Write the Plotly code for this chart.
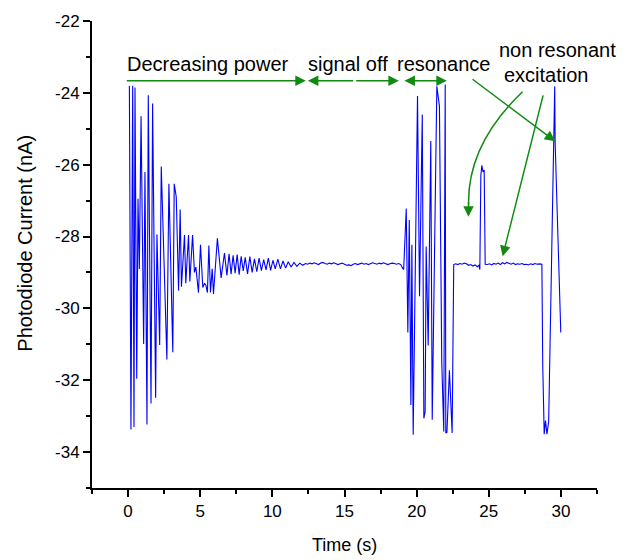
import plotly.graph_objects as go

# ---------------- data ----------------
t_decay = [0.09, 0.2, 0.32, 0.41, 0.48, 0.6, 0.69, 0.78, 0.9, 1.08, 1.17, 1.31, 1.4, 1.59, 1.7,
           1.91, 2.0, 2.19, 2.3, 2.69, 2.83, 3.1, 3.2, 3.34, 3.5, 3.61, 3.7, 3.91, 4.0, 4.19,
           4.28, 4.47, 4.6, 4.7, 4.88, 5.02, 5.18, 5.3, 5.39, 5.5, 5.6, 5.71, 5.83, 5.92, 6.19,
           6.45, 6.68]
i_decay = [-23.8, -33.37, -23.8, -33.3, -23.85, -31.96, -26.95, -28.9, -24.65, -30.99, -26.2,
           -33.23, -24.07, -32.65, -24.3, -32.49, -27.94, -31.02, -26.05, -31.42, -26.53, -31.22,
           -26.53, -26.9, -29.5, -27.25, -29.4, -27.96, -29.3, -27.96, -29.25, -27.96, -29.0,
           -28.85, -29.56, -28.23, -29.42, -29.3, -29.35, -29.56, -28.25, -29.56, -28.9, -29.6,
           -28.05, -29.15, -28.46]

t_ripple = [6.85, 7.0, 7.14, 7.28, 7.42, 7.56, 7.7, 7.84, 7.98, 8.12, 8.28, 8.44, 8.6, 8.76,
            8.92, 9.08, 9.24, 9.4, 9.56, 9.72, 9.88, 10.04, 10.2, 10.38, 10.56, 10.74, 10.92,
            11.1, 11.3, 11.5, 11.7, 11.9, 12.1]
i_ripple = [-29.08, -28.48, -29.05, -28.52, -29.02, -28.5, -29.06, -28.55, -28.96, -28.58,
            -29.04, -28.56, -29.0, -28.62, -28.98, -28.6, -28.95, -28.64, -28.93, -28.6, -28.94,
            -28.66, -28.9, -28.63, -28.9, -28.68, -28.88, -28.7, -28.85, -28.72, -28.83, -28.74,
            -28.8]

t_off = [12.3, 12.45, 12.6, 12.75, 12.9, 13.05, 13.2, 13.35, 13.5, 13.65, 13.8, 13.95, 14.1,
         14.25, 14.4, 14.55, 14.7, 14.85, 15.0, 15.15, 15.3, 15.45, 15.6, 15.75, 15.9, 16.05,
         16.2, 16.35, 16.5, 16.65, 16.8, 16.95, 17.1, 17.25, 17.4, 17.55, 17.7, 17.85, 18.0,
         18.15, 18.3, 18.45, 18.6, 18.75, 18.9, 19.0, 19.1]
i_off = [-28.75, -28.77, -28.74, -28.76, -28.73, -28.75, -28.78, -28.74, -28.72, -28.75, -28.77,
         -28.74, -28.76, -28.73, -28.75, -28.78, -28.76, -28.74, -28.77, -28.8, -28.79, -28.81,
         -28.77, -28.75, -28.78, -28.76, -28.74, -28.77, -28.75, -28.78, -28.76, -28.73, -28.75,
         -28.77, -28.74, -28.76, -28.73, -28.75, -28.78, -28.76, -28.74, -28.75, -28.77, -28.75,
         -28.78, -28.86, -28.92]

t_res = [19.28, 19.39, 19.49, 19.6, 19.67, 19.76, 20.06, 20.2, 20.39, 20.5, 20.59, 20.66, 20.8,
         20.98, 21.08, 21.4, 21.58, 21.74, 21.88, 21.98, 22.02, 22.1, 22.27, 22.46, 22.57]
i_res = [-27.22, -30.67, -27.54, -32.69, -28.23, -33.52, -24.09, -29.66, -24.6, -33.06, -32.87,
         -28.28, -31.03, -25.34, -33.1, -23.82, -24.37, -31.49, -33.43, -23.77, -33.47, -33.45,
         -31.72, -33.47, -28.78]

t_after = [22.7, 22.85, 23.0, 23.15, 23.3, 23.45, 23.6, 23.75, 23.9, 24.05, 24.2, 24.32, 24.38,
           24.45, 24.52, 24.6, 24.68, 24.75, 24.9, 25.05, 25.2, 25.35, 25.5, 25.65, 25.8, 25.95,
           26.1, 26.25, 26.4, 26.55, 26.7, 26.85, 27.0, 27.15, 27.3, 27.45, 27.6, 27.75, 27.9,
           28.05, 28.2, 28.35, 28.5, 28.68]
i_after = [-28.76, -28.78, -28.75, -28.77, -28.74, -28.76, -28.8, -28.78, -28.82, -28.79, -28.84,
           -28.8, -28.92, -26.3, -26.02, -26.2, -26.15, -28.77, -28.78, -28.76, -28.79, -28.75,
           -28.77, -28.74, -28.78, -28.73, -28.76, -28.72, -28.75, -28.77, -28.74, -28.78, -28.76,
           -28.77, -28.75, -28.78, -28.77, -28.79, -28.76, -28.78, -28.75, -28.77, -28.76, -28.77]

t_end = [28.74, 28.84, 28.93, 29.03, 29.15, 29.57, 29.6, 29.99]
i_end = [-31.6, -33.5, -33.12, -33.5, -33.15, -23.82, -25.4, -30.67]

x_tickvals = [0, 5, 10, 15, 20, 25, 30]
x_ticktext = ["0", "5", "10", "15", "20", "25", "30"]
x_minor = [-2.5, 2.5, 7.5, 12.5, 17.5, 22.5, 27.5, 32.5]
y_tickvals = [-22, -24, -26, -28, -30, -32, -34]
y_ticktext = ["-22", "-24", "-26", "-28", "-30", "-32", "-34"]
y_minor = [-23, -25, -27, -29, -31, -33, -35]

t_all = t_decay + t_ripple + t_off + t_res + t_after + t_end
i_all = i_decay + i_ripple + i_off + i_res + i_after + i_end

FONT = "Liberation Sans, Arial, sans-serif"
GREEN = "#108a10"

fig = go.Figure()
fig.add_trace(go.Scatter(x=t_all, y=i_all, mode="lines",
                         line=dict(color="#0000ff", width=1.1), showlegend=False))

axis_common = dict(showline=True, linecolor="black", linewidth=2, ticks="outside",
                   ticklen=7, tickwidth=2, tickcolor="black", showgrid=False, zeroline=False,
                   tickfont=dict(family=FONT, size=17, color="black"))
fig.update_xaxes(range=[-2.5, 32.5], tickmode="array", tickvals=x_tickvals, ticktext=x_ticktext,
                 minor=dict(tickvals=x_minor, ticks="outside", ticklen=4, tickwidth=2,
                            tickcolor="black"),
                 **axis_common)
fig.update_yaxes(range=[-35, -22], tickmode="array", tickvals=y_tickvals, ticktext=y_ticktext,
                 minor=dict(tickvals=y_minor, ticks="outside", ticklen=4, tickwidth=2,
                            tickcolor="black"),
                 **axis_common)

ann = []
# axis titles
ann.append(dict(text="Time (s)", xref="paper", yref="paper", x=0.5, y=-0.123,
                xanchor="center", yanchor="middle",
                showarrow=False, font=dict(family=FONT, size=18, color="black")))
ann.append(dict(text="Photodiode Current (nA)", xref="paper", yref="paper", x=-0.133, y=0.525,
                xanchor="center", yanchor="middle",
                textangle=-90, showarrow=False, font=dict(family=FONT, size=20, color="black")))

labels = [("Decreasing power", 5.55, -23.2), ("signal off", 15.23, -23.2),
          ("resonance", 21.89, -23.2), ("non resonant", 29.77, -22.8),
          ("excitation", 29.01, -23.5)]
for txt, x, y in labels:
    ann.append(dict(text=txt, x=x, y=y, xref="x", yref="y", showarrow=False,
                    xanchor="center", yanchor="middle",
                    font=dict(family=FONT, size=20, color="black")))

arrows = [  # (head x, head y, tail x, tail y, side)
    (12.32, -23.66, -0.19, -23.66, "end"),
    (12.46, -23.66, 15.71, -23.66, "end"),
    (18.77, -23.66, 15.71, -23.66, "end"),
    (22.09, -23.66, 19.05, -23.66, "end+start"),
    (29.6, -25.35, 23.77, -23.59, "end"),
    (25.96, -28.55, 28.79, -24.03, "end"),
    (23.59, -27.45, 23.6, -27.0, "end"),
]
for hx, hy, tx, ty, side in arrows:
    ann.append(dict(text="", x=hx, y=hy, ax=tx, ay=ty, xref="x", yref="y", axref="x",
                    ayref="y", showarrow=True, arrowhead=2, arrowsize=1.4, arrowwidth=1.5,
                    arrowcolor=GREEN, arrowside=side, standoff=0, startstandoff=0))

fig.update_layout(
    width=630, height=560, margin=dict(l=92, r=33, t=16, b=72),
    paper_bgcolor="white", plot_bgcolor="white", annotations=ann,
    shapes=[dict(type="path", xref="x", yref="y",
                 path="M 27.34,-23.97 Q 23.52,-25.43 23.6,-27.1",
                 line=dict(color=GREEN, width=1.5))],
)

fig.write_html("out.html", config={"displayModeBar": False},
               post_script="document.body.style.margin='0';")
